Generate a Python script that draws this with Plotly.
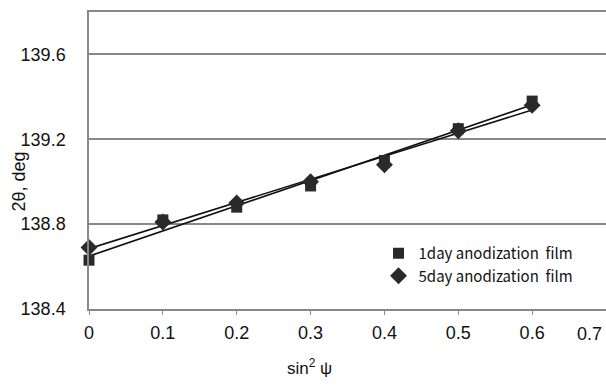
import numpy as np
import plotly.graph_objects as go

sin2psi = [0.0, 0.1, 0.2, 0.3, 0.4, 0.5, 0.6]
day1 = [138.63, 138.82, 138.88, 138.98, 139.10, 139.25, 139.38]
day5 = [138.69, 138.81, 138.90, 139.00, 139.08, 139.24, 139.36]
names = ["1day anodization  film", "5day anodization  film"]
y_ticks = [138.4, 138.8, 139.2, 139.6]
x_ticks = [0, 0.1, 0.2, 0.3, 0.4, 0.5, 0.6, 0.7]
x_labels = ["0", "0.1", "0.2", "0.3", "0.4", "0.5", "0.6", "0.7"]
# last label sits at the right edge; it is drawn nudged left so it stays inside the page
x_ticktext = x_labels[:-1] + [""]

fig = go.Figure()
for ys in [day1, day5]:
    k, b = np.polyfit(sin2psi, ys, 1)
    xs = [sin2psi[0], sin2psi[-1]]
    fig.add_trace(go.Scatter(x=xs, y=[k * x + b for x in xs], mode="lines",
                             line=dict(color="#111111", width=1.6), showlegend=False,
                             hoverinfo="skip", cliponaxis=False))
# diamonds first so squares sit on top; legend reversed to list 1day first
for ys, sym, nm, sz in [(day5, "diamond", names[1], 13), (day1, "square", names[0], 11)]:
    fig.add_trace(go.Scatter(x=sin2psi, y=ys, mode="markers", name=nm, cliponaxis=False,
                             marker=dict(symbol=sym, size=sz, color="#2a2a2a", line=dict(width=0))))

fig.update_layout(
    width=606, height=385,
    margin=dict(l=89, r=0, t=12, b=76),
    plot_bgcolor="white", paper_bgcolor="white",
    font=dict(family="Liberation Sans, Arial, sans-serif", color="#111111", size=18),
    legend=dict(x=0.56, y=0.15, xanchor="left", yanchor="middle", traceorder="reversed",
                bgcolor="rgba(0,0,0,0)", font=dict(family="Noto Sans CJK JP", size=15),
                itemwidth=30, tracegroupgap=0),
    xaxis=dict(range=[0, 0.7], tickvals=x_ticks, ticktext=x_ticktext,
               showgrid=False, zeroline=False, showline=True, linecolor="#888888",
               linewidth=1.5, mirror=True, ticks="outside", ticklen=4, tickcolor="#888888",
               ticklabelstandoff=3, automargin=False),
    yaxis=dict(range=[138.4, 139.8], tickvals=y_ticks, ticktext=[f"{v:.1f}" for v in y_ticks],
               showgrid=True, gridcolor="#888888", gridwidth=1.5, zeroline=False,
               showline=True, linecolor="#888888", linewidth=1.5,
               ticks="", ticklabelstandoff=18, automargin=False),
    annotations=[
        dict(text="2θ, deg", xref="paper", yref="paper", x=-0.135, y=0.43,
             textangle=-90, showarrow=False, xanchor="center", yanchor="middle",
             font=dict(size=18)),
        dict(text="sin<sup>2</sup> ψ", xref="paper", yref="paper", x=0.427, y=-0.195,
             showarrow=False, xanchor="center", yanchor="middle", font=dict(size=17)),
        dict(text=x_labels[-1], xref="x", yref="paper", x=x_ticks[-1], y=-0.083,
             xanchor="right", xshift=-2, yanchor="middle", showarrow=False,
             font=dict(size=18)),
    ],
)
fig.write_html("out.html", config={"displayModeBar": False},
               post_script="document.body.style.margin='0';document.body.style.overflow='hidden';")
